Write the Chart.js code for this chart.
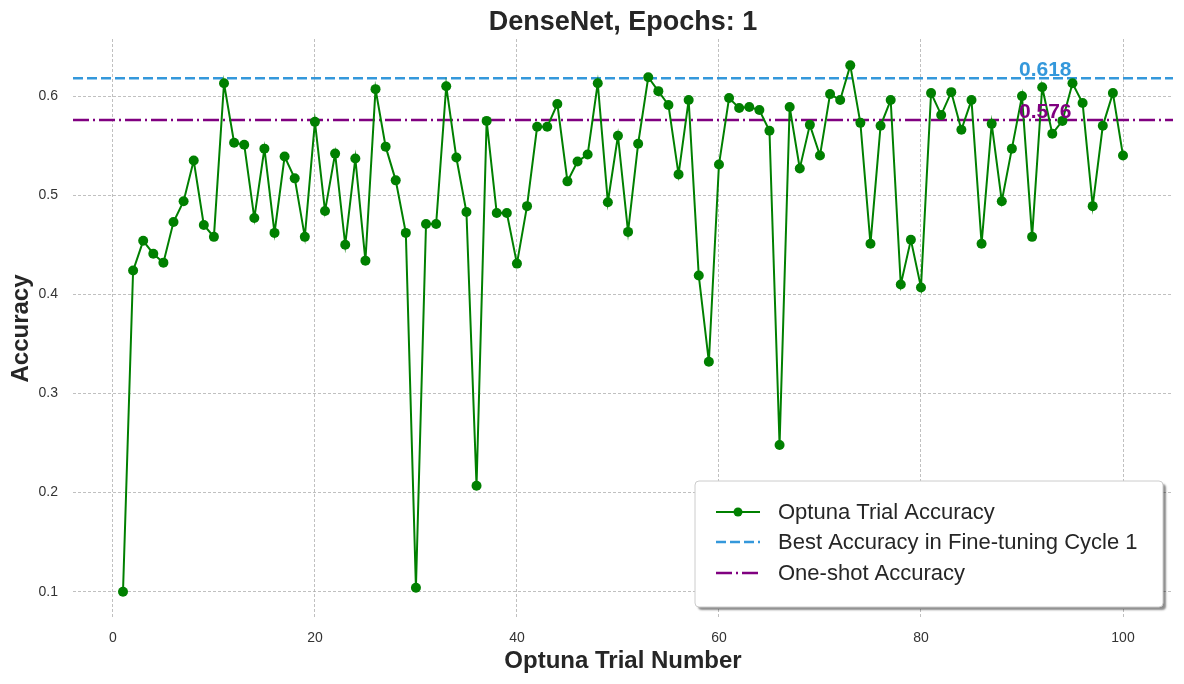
<!DOCTYPE html>
<html>
<head>
<meta charset="utf-8">
<script src="https://cdn.jsdelivr.net/npm/chart.js@4.4.1/dist/chart.umd.min.js"></script>
<style>
  html, body { margin: 0; padding: 0; background: #fff; }
  #wrap { width: 1184px; height: 684px; }
</style>
</head>
<body>
<div id="wrap"><canvas id="chart"></canvas></div>
<script>
// accuracy of each optuna trial (trial 1..100)
const trialAcc = [
  0.100, 0.424, 0.454, 0.441, 0.432, 0.473, 0.494, 0.535, 0.470, 0.458,
  0.613, 0.553, 0.551, 0.477, 0.547, 0.462, 0.539, 0.517, 0.458, 0.574,
  0.484, 0.542, 0.450, 0.537, 0.434, 0.607, 0.549, 0.515, 0.462, 0.104,
  0.471, 0.471, 0.610, 0.538, 0.483, 0.207, 0.575, 0.482, 0.482, 0.431,
  0.489, 0.569, 0.569, 0.592, 0.514, 0.534, 0.541, 0.613, 0.493, 0.560,
  0.463, 0.552, 0.619, 0.605, 0.591, 0.521, 0.596, 0.419, 0.332, 0.531,
  0.598, 0.588, 0.589, 0.586, 0.565, 0.248, 0.589, 0.527, 0.571, 0.540,
  0.602, 0.596, 0.631, 0.573, 0.451, 0.570, 0.596, 0.410, 0.455, 0.407,
  0.603, 0.581, 0.604, 0.566, 0.596, 0.451, 0.572, 0.494, 0.547, 0.600,
  0.458, 0.609, 0.562, 0.575, 0.613, 0.593, 0.489, 0.570, 0.603, 0.540
];
const bestAcc = 0.618;
const oneShotAcc = 0.576;

const xTicks = [0, 20, 40, 60, 80, 100];
const yTicks = [0.1, 0.2, 0.3, 0.4, 0.5, 0.6];

const titleText = 'DenseNet, Epochs: 1';
const seriesLabels = ['Optuna Trial Accuracy', 'Best Accuracy in Fine-tuning Cycle 1', 'One-shot Accuracy'];
const GREEN = '#008000', BLUE = '#3498db', PURPLE = '#800080';
const FONT = '"Liberation Sans", Arial, sans-serif';

// matplotlib style 5% margins
const xMin = -3.95, xMax = 104.95;
const yMin = 0.0735, yMax = 0.6576;

const points = trialAcc.map((v, i) => ({ x: i + 1, y: v }));

const overlay = {
  id: 'overlay',
  afterDraw(chart) {
    const ctx = chart.ctx;
    const xs = chart.scales.x, ys = chart.scales.y;
    const area = chart.chartArea;
    ctx.save();
    // title, centred over the plot area like matplotlib
    ctx.font = 'bold 27px ' + FONT;
    ctx.fillStyle = '#262626';
    ctx.textAlign = 'center';
    ctx.textBaseline = 'alphabetic';
    ctx.fillText(titleText, (area.left + area.right) / 2, 30);

    // value labels over the reference lines
    ctx.font = 'bold 21px ' + FONT;
    ctx.fillStyle = BLUE;
    ctx.fillText(bestAcc.toFixed(3), xs.getPixelForValue(92.3), ys.getPixelForValue(bestAcc) - 2);
    ctx.fillStyle = PURPLE;
    ctx.fillText(oneShotAcc.toFixed(3), xs.getPixelForValue(92.3), ys.getPixelForValue(oneShotAcc) - 2);

    // legend box (lower right, with shadow)
    const bx = 695, by = 481, bw = 468, bh = 126;
    ctx.shadowColor = 'rgba(0,0,0,0.45)';
    ctx.shadowOffsetX = 3; ctx.shadowOffsetY = 3; ctx.shadowBlur = 2;
    ctx.fillStyle = '#fff';
    ctx.beginPath();
    ctx.roundRect(bx, by, bw, bh, 4);
    ctx.fill();
    ctx.shadowColor = 'transparent';
    ctx.strokeStyle = '#cccccc';
    ctx.lineWidth = 1;
    ctx.stroke();

    const rows = [512, 542, 573];
    const styles = [
      { c: GREEN, dash: [], w: 2, marker: true },
      { c: BLUE, dash: [10, 4], w: 2.5 },
      { c: PURPLE, dash: [16, 4, 2, 4], w: 2.5 }
    ];
    rows.forEach((ry, i) => {
      const s = styles[i];
      ctx.strokeStyle = s.c; ctx.lineWidth = s.w; ctx.setLineDash(s.dash);
      ctx.beginPath(); ctx.moveTo(716, ry); ctx.lineTo(760, ry); ctx.stroke();
      ctx.setLineDash([]);
      if (s.marker) {
        ctx.fillStyle = s.c;
        ctx.beginPath(); ctx.arc(738, ry, 4.5, 0, Math.PI * 2); ctx.fill();
      }
      ctx.fillStyle = '#262626';
      ctx.font = '22px ' + FONT;
      ctx.textAlign = 'left';
      ctx.textBaseline = 'middle';
      ctx.fillText(seriesLabels[i], 778, ry + 1);
    });
    ctx.restore();
  }
};

new Chart(document.getElementById('chart'), {
  type: 'line',
  data: {
    datasets: [
      {
        label: seriesLabels[0],
        data: points,
        borderColor: GREEN,
        backgroundColor: GREEN,
        borderWidth: 2,
        pointRadius: 5,
        pointHoverRadius: 5,
        pointBackgroundColor: GREEN,
        pointBorderWidth: 0,
        tension: 0,
        order: 0
      },
      {
        label: seriesLabels[1],
        data: [{ x: xMin, y: bestAcc }, { x: xMax, y: bestAcc }],
        borderColor: BLUE,
        borderWidth: 2.5,
        borderDash: [10, 4],
        pointRadius: 0,
        order: 1
      },
      {
        label: seriesLabels[2],
        data: [{ x: xMin, y: oneShotAcc }, { x: xMax, y: oneShotAcc }],
        borderColor: PURPLE,
        borderWidth: 2.5,
        borderDash: [16, 4, 2, 4],
        pointRadius: 0,
        order: 1
      }
    ]
  },
  options: {
    responsive: true,
    maintainAspectRatio: false,
    animation: false,
    layout: { padding: { left: 0, right: 11, top: 39, bottom: 0 } },
    plugins: {
      legend: { display: false },
      tooltip: { enabled: false },
      title: { display: false }
    },
    scales: {
      x: {
        type: 'linear',
        min: xMin,
        max: xMax,
        afterBuildTicks: s => { s.ticks = xTicks.map(v => ({ value: v })); },
        afterFit: s => { s.height = 66; },
        ticks: { color: '#333', font: { family: FONT, size: 14 }, padding: 12, maxRotation: 0 },
        grid: { color: '#b0b0b0', lineWidth: 0.8, drawTicks: false },
        border: { display: false, dash: [3, 2] },
        title: {
          display: true,
          text: 'Optuna Trial Number',
          color: '#262626',
          font: { family: FONT, size: 24, weight: 'bold' },
          padding: { top: 0, bottom: 8 }
        }
      },
      y: {
        min: yMin,
        max: yMax,
        afterBuildTicks: s => { s.ticks = yTicks.map(v => ({ value: v })); },
        afterFit: s => { s.width = 73; },
        ticks: { color: '#333', font: { family: FONT, size: 14 }, padding: 15, callback: v => v.toFixed(1) },
        grid: { color: '#b0b0b0', lineWidth: 0.8, drawTicks: false },
        border: { display: false, dash: [3, 2] },
        title: {
          display: true,
          text: 'Accuracy',
          color: '#262626',
          font: { family: FONT, size: 24, weight: 'bold' },
          padding: { top: 7, bottom: 0 }
        }
      }
    }
  },
  plugins: [overlay]
});
</script>
</body>
</html>
